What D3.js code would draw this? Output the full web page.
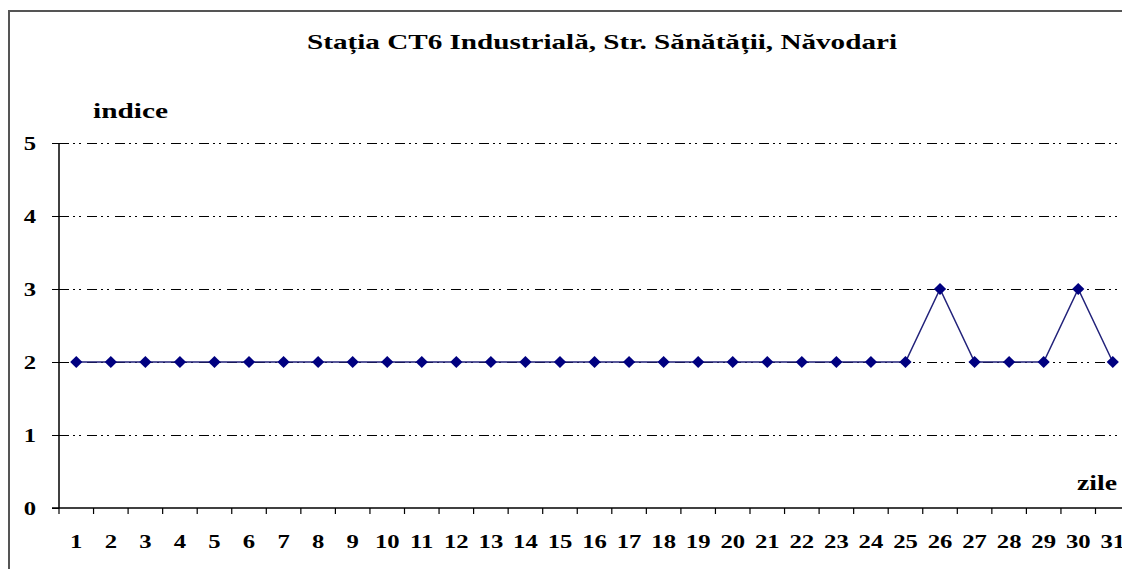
<!DOCTYPE html>
<html>
<head>
<meta charset="utf-8">
<script src="https://cdn.jsdelivr.net/npm/d3@7"></script>
<style>
  body { margin: 0; background: #fff; }
  text { font-family: "Liberation Serif", "Times New Roman", serif; font-weight: bold; fill: #000; }
</style>
</head>
<body>
<div id="chart"></div>
<script>
// Width and height
var width  = 1122;
var height = 569;

// data
var days   = d3.range(1, 32);
var indice = [2,2,2,2,2,2,2,2,2,2,2,2,2,2,2,2,2,2,2,2,2,2,2,2,2,3,2,2,2,3,2];
var yTicks = [0, 1, 2, 3, 4, 5];

var title  = "Stația CT6 Industrială, Str. Sănătății, Năvodari";
var yLabel = "indice";
var xLabel = "zile";

// plot area
var plotLeft = 59, plotTop = 143, plotBottom = 508;
var bandW = 34.55;
var stretch = 1.3; // the reference text is wide

var x = d3.scaleBand()
    .domain(days)
    .range([plotLeft, plotLeft + bandW * days.length])
    .padding(0);

var y = d3.scaleLinear()
    .domain([0, 5])
    .range([plotBottom, plotTop]);

var svg = d3.select("#chart")
    .append("svg")
    .attr("width", width)
    .attr("height", height);

// frame
svg.append("rect")
    .attr("x", 9)
    .attr("y", 11)
    .attr("width", 1200)
    .attr("height", 700)
    .style("fill", "none")
    .style("stroke", "#555")
    .style("stroke-width", 2);

// gridlines (dash dot dot)
svg.append("g")
    .selectAll("line")
    .data(yTicks.filter(function(d){ return d > 0; }))
    .enter()
    .append("line")
    .attr("x1", plotLeft)
    .attr("x2", width)
    .attr("y1", function(d){ return Math.round(y(d)) + 0.5; })
    .attr("y2", function(d){ return Math.round(y(d)) + 0.5; })
    .style("stroke", "#000")
    .style("stroke-width", 1)
    .style("stroke-dasharray", "10,4,2,4,2,6");

// y axis
var yAxis = d3.axisLeft(y)
    .tickValues(yTicks)
    .tickFormat(d3.format("d"))
    .tickSize(7);

var gy = svg.append("g")
    .attr("transform", "translate(" + plotLeft + ",0)")
    .call(yAxis);
gy.select(".domain").attr("d", "M0," + plotTop + "V" + plotBottom).style("stroke", "#000").style("stroke-width", 1.5);
gy.selectAll(".tick line").style("stroke", "#000");
gy.selectAll(".tick text")
    .style("font-family", "'Liberation Serif', serif")
    .style("font-weight", "bold")
    .style("font-size", "19px")
    .style("fill", "#000")
    .attr("x", 0)
    .attr("dy", "0.34em")
    .attr("transform", "translate(-29,0) scale(" + stretch + ",1)")
    .style("text-anchor", "middle");

// x axis line
svg.append("line")
    .attr("x1", plotLeft - 7)
    .attr("x2", width)
    .attr("y1", plotBottom)
    .attr("y2", plotBottom)
    .style("stroke", "#000")
    .style("stroke-width", 1.5);

// x tick marks at band boundaries
svg.append("g")
    .selectAll("line")
    .data(days)
    .enter()
    .append("line")
    .attr("x1", function(d){ return x(d); })
    .attr("x2", function(d){ return x(d); })
    .attr("y1", plotBottom)
    .attr("y2", plotBottom + 6)
    .style("stroke", "#000")
    .style("stroke-width", 1.2);

// x labels
var xAxis = d3.axisBottom(x)
    .tickSize(0);

var gx = svg.append("g")
    .attr("transform", "translate(0," + plotBottom + ")")
    .call(xAxis);
gx.select(".domain").remove();
gx.selectAll(".tick text")
    .style("font-family", "'Liberation Serif', serif")
    .style("font-weight", "bold")
    .style("font-size", "19px")
    .style("fill", "#000")
    .attr("y", 0)
    .attr("dy", 0)
    .attr("transform", "translate(0,40) scale(" + stretch + ",1)");

// line
var line = d3.line()
    .x(function(d, i){ return x(days[i]) + x.bandwidth() / 2; })
    .y(function(d){ return y(d); });

svg.append("path")
    .datum(indice)
    .attr("d", line)
    .style("fill", "none")
    .style("stroke", "#22227a")
    .style("stroke-width", 1.5);

// diamond markers
svg.append("g")
    .selectAll("path")
    .data(indice)
    .enter()
    .append("path")
    .attr("d", d3.symbol().type(d3.symbolDiamond2).size(95))
    .attr("transform", function(d, i){
        return "translate(" + (x(days[i]) + x.bandwidth() / 2) + "," + y(d) + ")";
    })
    .style("fill", "#000080");

// texts
svg.append("text")
    .attr("x", 307)
    .attr("y", 49)
    .attr("textLength", 590)
    .attr("lengthAdjust", "spacingAndGlyphs")
    .style("font-size", "22px")
    .text(title);

svg.append("text")
    .attr("x", 93)
    .attr("y", 118)
    .attr("textLength", 75)
    .attr("lengthAdjust", "spacingAndGlyphs")
    .style("font-size", "22px")
    .text(yLabel);

svg.append("text")
    .attr("x", 1077)
    .attr("y", 490)
    .attr("textLength", 40)
    .attr("lengthAdjust", "spacingAndGlyphs")
    .style("font-size", "22px")
    .text(xLabel);
</script>
</body>
</html>
